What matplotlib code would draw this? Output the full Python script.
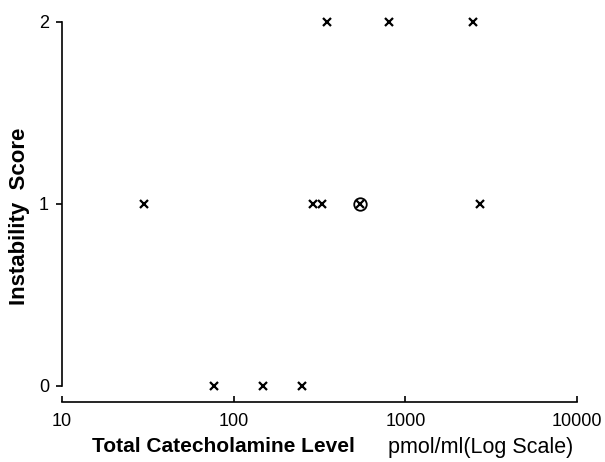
import matplotlib
matplotlib.use("Agg")
import matplotlib.pyplot as plt
from matplotlib.ticker import FixedLocator, FixedFormatter, NullLocator

plt.rcParams['font.family'] = ['Liberation Sans', 'DejaVu Sans']

# Total catecholamine level (pmol/ml) and instability score per patient
catecholamine = [30, 77, 148, 250, 290, 327, 544, 2720, 349, 802, 2480]
instability = [1, 0, 0, 0, 1, 1, 1, 1, 2, 2, 2]
# Highlighted patient (circled cross)
circled_level = [544]
circled_score = [1]

x_ticks = [10, 100, 1000, 10000]
x_tick_labels = ["10", "100", "1000", "10000"]
y_ticks = [0, 1, 2]
y_tick_labels = ["0", "1", "2"]

W, H, DPI = 605, 462, 100
fig = plt.figure(figsize=(W / DPI, H / DPI), dpi=DPI)
px = 72 / DPI  # points per pixel

left, right, top, bottom = 62, 577, 22, 386
ax = fig.add_axes([left / W, 1 - bottom / H, (right - left) / W, (bottom - top) / H])

ax.set_xscale('log')
ax.set_xlim(10, 10000)
ax.set_ylim(0, 2)

ax.plot(catecholamine, instability, linestyle='none', marker='x', color='black',
        markersize=6, markeredgewidth=1.6, clip_on=False, zorder=3)
ax.plot(circled_level, circled_score, linestyle='none', marker='o', markerfacecolor='none',
        markeredgecolor='black', markersize=9, markeredgewidth=1.3, clip_on=False, zorder=3)

for s in ['top', 'right']:
    ax.spines[s].set_visible(False)
ax.spines['left'].set_linewidth(1.2)
ax.spines['bottom'].set_linewidth(1.2)
ax.spines['bottom'].set_position(('outward', 16 * px))

ax.xaxis.set_major_locator(FixedLocator(x_ticks))
ax.xaxis.set_major_formatter(FixedFormatter(x_tick_labels))
ax.xaxis.set_minor_locator(NullLocator())
ax.yaxis.set_major_locator(FixedLocator(y_ticks))
ax.yaxis.set_major_formatter(FixedFormatter(y_tick_labels))

ax.tick_params(axis='x', direction='in', length=6 * px, width=1.2, pad=11 * px,
               labelsize=13, colors='black')
ax.tick_params(axis='y', direction='out', length=6 * px, width=1.2, pad=5,
               labelsize=13, colors='black')

fig.text(20 / W, 1 - 216 / H, "Instability  Score", rotation=90, ha='center', va='center',
         fontsize=16, fontweight='bold')
fig.text(92 / W, 1 - 447 / H, "Total Catecholamine Level", ha='left', va='center',
         fontsize=15, fontweight='bold')
fig.text(388 / W, 1 - 447 / H, "pmol/ml(Log Scale)", ha='left', va='center',
         fontsize=15.5)

fig.savefig("out.png", dpi=DPI)
